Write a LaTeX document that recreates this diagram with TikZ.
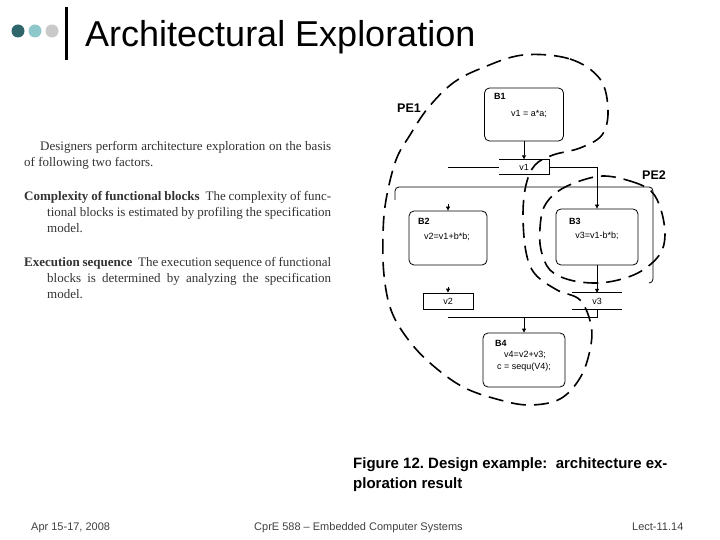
\documentclass[tikz,border=0pt]{standalone}
\usepackage{fontspec}
\setmainfont{Liberation Serif}
\setsansfont{Liberation Sans}
\usetikzlibrary{arrows.meta, positioning, calc}
\definecolor{dotdark}{HTML}{2F666B}
\definecolor{dotmid}{HTML}{8FC8CB}
\definecolor{dotlight}{HTML}{C9C9C9}
\frenchspacing

\begin{document}
\begin{tikzpicture}[x=1pt, y=-1pt,
    blk/.style={draw, rounded corners=5pt, line width=0.8pt, inner sep=0pt},
    var/.style={minimum width=50pt, minimum height=15pt, inner sep=0pt,
                font=\sffamily\fontsize{9}{10}\selectfont},
    code/.style={font=\sffamily\fontsize{9}{10}\selectfont, inner sep=0pt},
    tag/.style={font=\sffamily\bfseries\fontsize{9}{10}\selectfont, inner sep=0pt, anchor=base west},
    pelabel/.style={font=\sffamily\bfseries\fontsize{12.5}{14}\selectfont, inner sep=0pt, anchor=base west},
    arr/.style={-{Triangle[length=4pt, width=4pt]}, line width=0.8pt},
    wire/.style={line width=0.8pt},
    pe/.style={dash pattern=on 15pt off 8pt, line width=1.6pt},
    body/.style={font=\fontsize{13}{16}\selectfont, text width=307pt, align=justify,
                 inner sep=0pt, anchor=north west, text=black!80},
    caption/.style={font=\sffamily\bfseries\fontsize{15}{19}\selectfont, inner sep=0pt, anchor=base west},
    foot/.style={font=\sffamily\fontsize{11}{13}\selectfont, inner sep=0pt, anchor=base west, text=black!75},
]
\useasboundingbox[fill=white] (0,0) rectangle (720,540);

% Title
\fill[dotdark] (18,31) circle (6.5pt);
\fill[dotmid] (35,31) circle (6.5pt);
\fill[dotlight] (52,31) circle (6.5pt);
\draw[line width=3pt] (66,7) -- (66,60);
\node[font=\sffamily\fontsize{36}{40}\selectfont, inner sep=0pt, anchor=base west] (title) at (85,47) {Architectural Exploration};

% Text on the left
\node[body] (intro) at (24,141) {\hspace*{16pt}Designers perform architecture exploration on the basis\linebreak of following two factors.\par};
\node[body] (cplx) at (24,191) {\hangindent=23pt\hangafter=1 {\bfseries Complexity of functional blocks}\hspace{0.45em}The complexity of func-\linebreak tional blocks is estimated by profiling the specification\linebreak model.\par};
\node[body] (exec) at (24,257) {\hangindent=23pt\hangafter=1 {\bfseries Execution sequence}\hspace{0.45em}The execution sequence of functional\linebreak blocks is determined by analyzing the specification\linebreak model.\par};

% Blocks and variables
\node[blk, minimum width=79pt, minimum height=53pt] (b1) at (524,114.5) {};
\node[var] (v1) at (524,167) {v1};
\node[blk, minimum width=78pt, minimum height=54pt] (b2) at (448,238) {};
\node[blk, minimum width=82pt, minimum height=56pt] (b3) at (597,237) {};
\node[var, draw, line width=0.8pt, minimum height=16pt] (v2) at (448,301) {v2};
\node[var, minimum height=16pt] (v3) at (597,301) {v3};
\node[blk, minimum width=82pt, minimum height=54pt] (b4) at (524,360) {};

\node[tag] at (494,100) {B1};
\node[code, anchor=west] at (511,114) {v1 = a*a;};
\node[tag] at (418,225) {B2};
\node[code] at (447,237) {v2=v1+b*b;};
\node[tag] at (569,225) {B3};
\node[code] at (597,236) {v3=v1-b*b;};
\node[tag] at (495,346) {B4};
\node[code] at (525,355) {v4=v2+v3;};
\node[code] at (524,367) {c = sequ(V4);};

% variable boxes drawn open
\draw[wire] (v1.north west) -- (v1.north east) -- (v1.south east) -- (v1.south west);
\draw[wire] (v3.north west) -- (v3.north east) (v3.south west) -- (v3.south east);

% hierarchy frame
\draw[wire, rounded corners=4pt] (395,200) -- (395,187) -- (653,187) -- (653,283) -- (649,283);

% Connections
\coordinate (v1w) at (448,167);
\coordinate (b2in) at (448,204);
\coordinate (v2in) at (448,287);
\coordinate (join) at (448,317);
\draw[arr] (b1.south) -- (v1.north);
\draw[wire] (v1.west) -- (v1w);
\draw[arr] (v1.east) -| (b3.north);
\draw[arr] (b2in) -- (b2.north);
\draw[arr] (v2in) -- (v2.north);
\draw[arr] (b3.south) -- (v3.north);
\draw[wire] (v3.south) |- (join);
\draw[arr] (b4.north |- join) -- (b4.north);

% Processing elements
\draw[pe] plot[smooth cycle, tension=0.6] coordinates {
    (523,55) (570,59) (600,79) (608,110) (602,135) (580,148) (553,155)
    (535,165) (526,185) (523,215) (526,252) (535,274) (557,290) (580,300)
    (591,325) (590,350) (580,378) (560,399) (530,405) (500,400) (463,387)
    (430,363) (407,338) (391,310) (384,275) (383,235) (386,200) (396,160)
    (410,135) (428,108) (453,83) (482,68)};
\draw[pe] plot[smooth cycle, tension=0.6] coordinates {
    (603,176) (630,181) (651,191) (661,210) (665,235) (660,254) (643,270)
    (622,279) (597,283) (570,280) (550,270) (541,250) (540,228) (544,207)
    (557,192) (577,182)};
\node[pelabel] (pe1) at (397,113) {PE1};
\node[pelabel] (pe2) at (642,180) {PE2};

% Caption
\node[caption] (cap1) at (353,468) {Figure 12. Design example:\ \ architecture ex-};
\node[caption] (cap2) at (353,488) {ploration result};

% Footer
\node[foot] (date) at (31,530) {Apr 15-17, 2008};
\node[foot] (course) at (254,530) {CprE 588 -- Embedded Computer Systems};
\node[foot] (page) at (632,530) {Lect-11.14};
\end{tikzpicture}
\end{document}
